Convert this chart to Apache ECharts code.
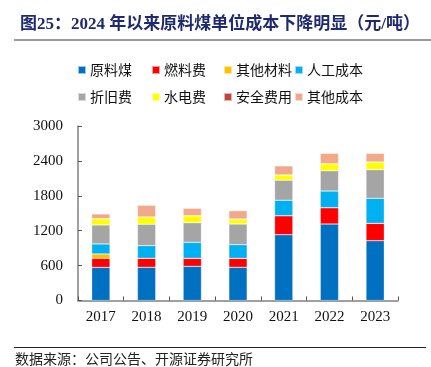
<!DOCTYPE html>
<html><head><meta charset="utf-8">
<script src="https://cdn.jsdelivr.net/npm/echarts@6/dist/echarts.min.js"></script>
<style>html,body{margin:0;padding:0;background:#fff}#c{width:431px;height:367px}</style>
</head><body><div id="c"></div>
<script>
const years = ['2017','2018','2019','2020','2021','2022','2023'];
const rawCoal   = [570, 571, 588, 571, 1131, 1315, 1028];
const fuel      = [155, 155, 137, 154, 327, 281, 299];
const otherMat  = [75, 0, 0, 0, 0, 0, 0];
const labor     = [172, 217, 275, 235, 266, 286, 430];
const deprec    = [327, 368, 337, 355, 344, 349, 492];
const utility   = [108, 125, 121, 86, 91, 121, 132];
const safety    = [0, 0, 0, 0, 0, 0, 0];
const otherCost = [81, 201, 127, 143, 155, 178, 149];
const yTicks = [0, 600, 1200, 1800, 2400, 3000];

const names = ['原料煤','燃料费','其他材料','人工成本','折旧费','水电费','安全费用','其他成本'];
const datas = [rawCoal, fuel, otherMat, labor, deprec, utility, safety, otherCost];
const colors = ['#0070C0','#FF0000','#FFC000','#00B0F0','#A5A5A5','#FFFF00','#C0443A','#F0A98A'];

const cjk = '"Noto Sans CJK SC", sans-serif';
const serif = '"Liberation Serif", "Times New Roman", serif';

const colX = [77, 151, 223, 294];
const rowY = [63, 90];
const legends = names.map((n, i) => ({
  data: [n], left: colX[i % 4], top: rowY[Math.floor(i / 4)], padding: 0,
  itemWidth: 8, itemHeight: 8, icon: 'rect',
  textStyle: { fontFamily: cjk, fontSize: 14, color: '#111', padding: [0,0,0,-1] }
}));

const chart = echarts.init(document.getElementById('c'), null, { renderer: 'canvas' });
chart.setOption({
  animation: false,
  backgroundColor: '#fff',
  title: {
    text: '图25：2024 年以来原料煤单位成本下降明显（元/吨）',
    left: 15, top: 11,
    textStyle: { fontFamily: serif + ', ' + cjk, fontSize: 17, fontWeight: 'bold', color: '#1F2A6E' }
  },
  graphic: [
    { type: 'line', shape: { x1: 14, y1: 40, x2: 431, y2: 40 }, style: { stroke: '#9A9A9A', lineWidth: 2 } },
    { type: 'line', shape: { x1: 14, y1: 347.5, x2: 426, y2: 347.5 }, style: { stroke: '#222', lineWidth: 1 } },
    { type: 'text', left: 15, top: 352, style: { text: '数据来源：公司公告、开源证券研究所', fontFamily: cjk, fontSize: 14, fill: '#222' } }
  ],
  legend: legends,
  grid: { left: 78, right: 33, top: 126, bottom: 66.5, containLabel: false },
  xAxis: {
    type: 'category', data: years,
    axisLine: { lineStyle: { color: '#808080', width: 1.5 } },
    axisTick: { show: true, inside: true, length: 4, alignWithLabel: false, lineStyle: { color: '#555' } },
    axisLabel: { fontFamily: serif, fontSize: 15, color: '#111', margin: 9 }
  },
  yAxis: {
    type: 'value', min: 0, max: 3000, interval: 600,
    splitLine: { show: false },
    axisLine: { show: true, lineStyle: { color: '#808080', width: 1.5 } },
    axisTick: { show: true, inside: true, length: 4, lineStyle: { color: '#555' } },
    axisLabel: { fontFamily: serif, fontSize: 15, color: '#111', margin: 15,
      formatter: v => yTicks.includes(v) ? String(v) : '' }
  },
  series: names.map((n, i) => ({
    name: n, type: 'bar', stack: 'total', barWidth: '40%',
    data: datas[i],
    itemStyle: { color: colors[i], borderColor: 'rgba(255,255,255,0.6)', borderWidth: 0.5 }
  }))
});
</script></body></html>
